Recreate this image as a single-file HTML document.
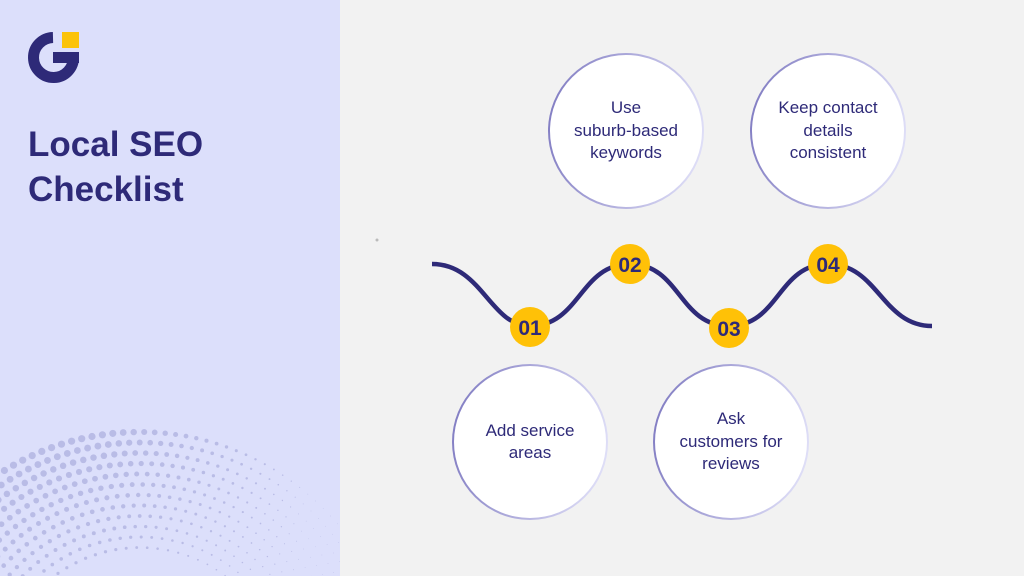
<!DOCTYPE html>
<html><head><meta charset="utf-8"><style>
html,body{margin:0;padding:0}
body{width:1024px;height:576px;overflow:hidden;background:#f2f2f2;font-family:"Liberation Sans",sans-serif;position:relative}
#left{position:absolute;left:0;top:0;width:340px;height:576px;background:#dcdffb;overflow:hidden}
h1{position:absolute;left:28px;top:122px;margin:0;font-size:35px;line-height:45px;color:#2e2a78;font-weight:bold}
.c{position:absolute;width:156px;height:156px;border-radius:50%;background:linear-gradient(100deg,#7d78c0,#e6e6fb);display:flex}
.c div{margin:2px;width:152px;height:152px;border-radius:50%;background:#fff;display:flex;align-items:center;justify-content:center;text-align:center;color:#2e2a78;font-size:17px;line-height:22.5px}
</style></head><body>
<div id="left">
<svg width="340" height="576" style="position:absolute;left:0;top:0" id="dots"></svg>
<svg width="100" height="100" style="position:absolute;left:0;top:0">
<path d="M 53 37.5 A 20 20 0 1 0 73.5 57" fill="none" stroke="#2e2a78" stroke-width="11"/>
<rect x="53" y="52" width="26" height="11" fill="#2e2a78"/>
<rect x="62" y="32" width="17" height="16" fill="#fbc30a"/>
</svg>
<h1>Local SEO<br>Checklist</h1>
</div>
<svg width="1024" height="576" style="position:absolute;left:0;top:0">
<path d="M432 264 C 482 264, 490 326, 530 326 C 580 326, 580 264, 630 264 C 680 264, 679 326, 729 326 C 779 326, 778 264, 828 264 C 878 264, 882 326, 932 326" fill="none" stroke="#2e2a78" stroke-width="4.5"/>
<circle cx="377" cy="240" r="1.5" fill="#bbb"/>
<g fill="#ffc107"><circle cx="530" cy="327" r="20"/><circle cx="630" cy="264" r="20"/><circle cx="729" cy="328" r="20"/><circle cx="828" cy="264" r="20"/></g>
<g fill="#2e2a78" font-family="Liberation Sans" font-weight="bold" font-size="21" text-anchor="middle">
<text x="530" y="335">01</text><text x="630" y="272">02</text><text x="729" y="336">03</text><text x="828" y="272">04</text></g>
</svg>
<div class="c" style="left:548px;top:53px"><div>Use<br>suburb-based<br>keywords</div></div>
<div class="c" style="left:750px;top:53px"><div>Keep contact<br>details<br>consistent</div></div>
<div class="c" style="left:452px;top:364px"><div>Add service<br>areas</div></div>
<div class="c" style="left:653px;top:364px"><div>Ask<br>customers for<br>reviews</div></div>
<script>
var s=document.getElementById('dots'),h='';
var cx=140,cy=690;
for(var k=0;k<12;k++){var R=258-k*10.5;
 for(var a=-Math.PI;a<0;a+=10.5/R){var x=cx+R*Math.cos(a),y=cy+R*Math.sin(a);
  if(x<-5||x>345||y>580)continue;
  var f=1-Math.max(0,(x-110))/220; f*=1-k*0.05; var r=Math.max(0.35,3.6*f);
  h+='<circle cx="'+x.toFixed(1)+'" cy="'+y.toFixed(1)+'" r="'+r.toFixed(2)+'" fill="#b9bce6"/>';}}
s.innerHTML=h;
</script>
</body></html>
